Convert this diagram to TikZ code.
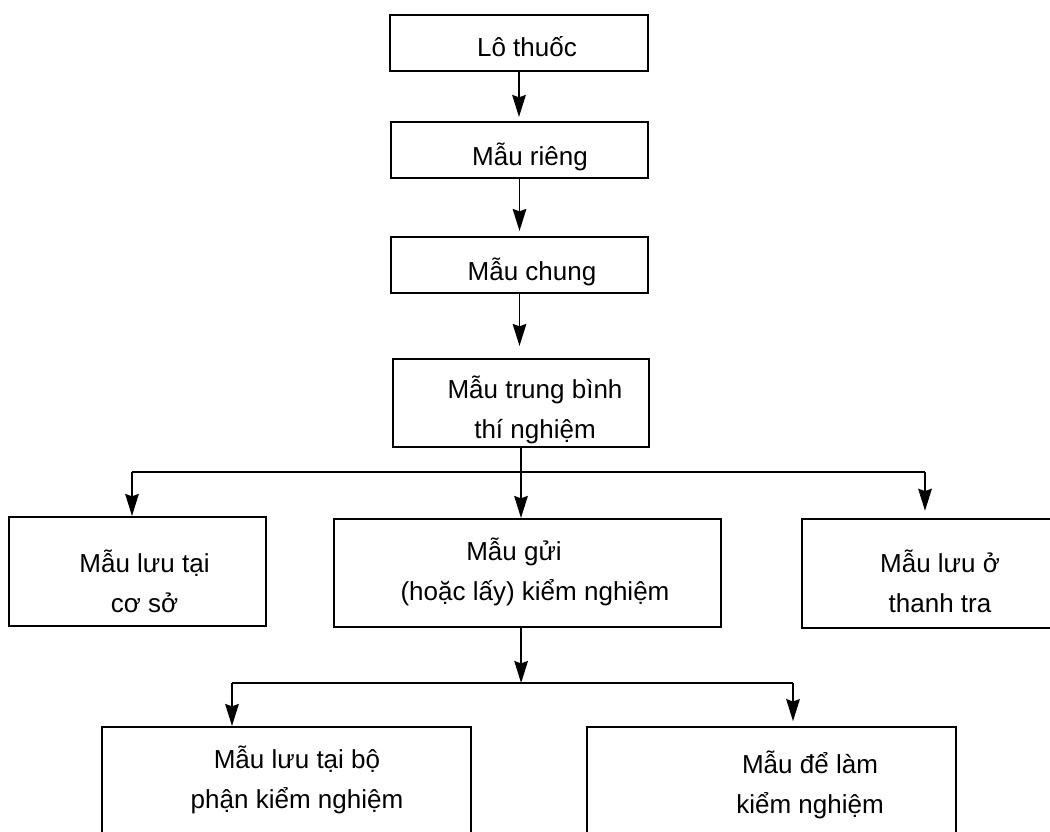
\documentclass[tikz,border=0pt]{standalone}
\usepackage{fontspec}
\setmainfont{Liberation Sans}
\usetikzlibrary{arrows.meta}

\begin{document}
\begin{tikzpicture}
  [
    x=0.025cm, y=-0.025cm,
    box/.style = {draw, shape=rectangle, line width=1.5pt, inner sep=0pt},
    txt/.style = {font=\fontsize{18.5}{28.45}\selectfont, align=center, inner sep=0pt, anchor=base},
    arr/.style = {-{Stealth[length=0.55cm, width=0.34cm, inset=0.06cm]}, line width=1.2pt},
    link/.style = {line width=1.2pt},
  ]
  \useasboundingbox (0,0) rectangle (1050,831);

  % boxes
  \node[box, minimum width=6.45cm, minimum height=1.4cm] (lo) at (519,43) {};
  \node[box, minimum width=6.425cm, minimum height=1.4cm] (rieng) at (519.5,150) {};
  \node[box, minimum width=6.425cm, minimum height=1.4cm] (chung) at (519.5,265) {};
  \node[box, minimum width=6.4cm, minimum height=2.2cm] (tb) at (521,403) {};

  \node[box, minimum width=6.425cm, minimum height=2.725cm] (luucs) at (137.5,571.5) {};
  \node[box, minimum width=9.675cm, minimum height=2.7cm] (gui) at (527.5,573) {};
  \node[box, minimum width=6.7cm, minimum height=2.725cm] (luutt) at (936,573.5) {};

  \node[box, minimum width=9.225cm, minimum height=3.325cm] (luubp) at (286.5,793.5) {};
  \node[box, minimum width=9.225cm, minimum height=3.325cm] (kn) at (771.5,793.5) {};

  % texts (base = last line)
  \node[txt] (tlo) at (527,56) {Lô thuốc};
  \node[txt] (trieng) at (530,165) {Mẫu riêng};
  \node[txt] (tchung) at (532,280) {Mẫu chung};
  \node[txt] (ttb) at (535,438) {Mẫu trung bình\\thí nghiệm};
  \node[txt] (tluucs) at (144.5,612) {Mẫu lưu tại\\cơ sở};
  \node[txt] (tgui) at (535,600) {Mẫu gửi\hspace*{1.05cm}\\(hoặc lấy) kiểm nghiệm};
  \node[txt] (tluutt) at (940,612) {Mẫu lưu ở\\thanh tra};
  \node[txt] (tluubp) at (297,808) {Mẫu lưu tại bộ\\phận kiểm nghiệm};
  \node[txt] (tkn) at (810,813) {Mẫu để làm\\kiểm nghiệm};

  % forks
  \coordinate (fork1l) at (132,472);
  \coordinate (fork1r) at (925,472);
  \coordinate (fork2l) at (232,683);
  \coordinate (fork2r) at (793,683);

  \draw [arr, shorten >=0.1cm] (lo.south) -- (lo.south |- rieng.north);
  \draw [arr, shorten >=0.125cm] (rieng.south) -- (rieng.south |- chung.north);
  \draw [arr, shorten >=0.3cm] (chung.south) -- (chung.south |- tb.north);

  \draw [link] (fork1l) -- (fork1r);
  \draw [arr] (tb.south) -- (tb.south |- gui.north);
  \draw [arr] (fork1l) -- (fork1l |- luucs.north);
  \draw [arr, shorten >=0.18cm] (fork1r) -- (fork1r |- luutt.north);

  \draw [link] (fork2l) -- (fork2r);
  \draw [arr] ([xshift=-0.16cm]gui.south) -- ([xshift=-0.16cm]gui.south |- fork2l);
  \draw [arr] (fork2l) -- (fork2l |- luubp.north);
  \draw [arr, shorten >=0.12cm] (fork2r) -- (fork2r |- kn.north);
\end{tikzpicture}
\end{document}
